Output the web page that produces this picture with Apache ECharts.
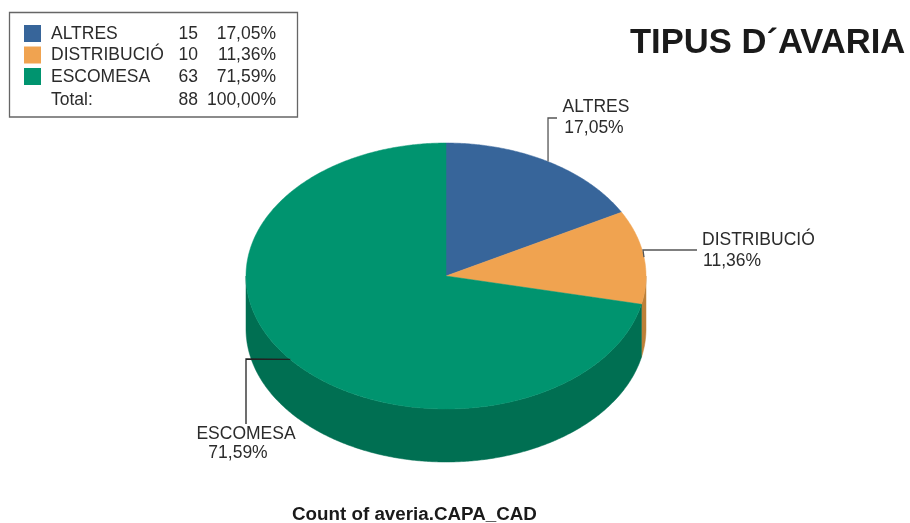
<!DOCTYPE html>
<html><head><meta charset="utf-8">
<style>html,body{margin:0;padding:0;background:#fff}#c{width:910px;height:523px}</style>
<script src="https://cdn.jsdelivr.net/npm/echarts@6/dist/echarts.min.js"></script>
</head><body><div id="c"></div>
<script>
var categories = ['ALTRES', 'DISTRIBUCIÓ', 'ESCOMESA'];
var counts = [15, 10, 63];
var percents = ['17,05%', '11,36%', '71,59%'];
var totalCount = '88';
var totalPercent = '100,00%';
var topColors = ['#37659a', '#f0a350', '#00946f'];
var sideColors = ['#2a4d76', '#bd8038', '#006f52'];

var FONT = '"Liberation Sans", Arial, Helvetica, sans-serif';
var TEXT = '#2b2b2b';
var FS = 17.5;
var PIE = {cx: 446, cy: 276, rx: 200, ry: 133, depth: 53};
var LABELS = [
  {turn: [[548, 118], [557, 118]], name: [596, 107, 'center'], pct: [594, 128, 'center']},
  {turn: [[643, 250], [697, 250]], name: [702, 240, 'left'], pct: [703, 261, 'left']},
  {turn: [[246, 359], [246, 424]], name: [246, 434, 'center'], pct: [238, 453, 'center']}
];

var total = counts.reduce(function (a, b) { return a + b; }, 0);
function pt(deg, dy) {
  var r = deg * Math.PI / 180;
  return [PIE.cx + PIE.rx * Math.sin(r), PIE.cy - PIE.ry * Math.cos(r) + (dy || 0)];
}
function arc(a0, a1, dy) {
  var out = [], n = Math.max(2, Math.ceil(Math.abs(a1 - a0) * 2));
  for (var i = 0; i <= n; i++) out.push(pt(a0 + (a1 - a0) * i / n, dy));
  return out;
}
function makeRender(idx) {
  return function (params, api) {
    var before = counts.slice(0, idx).reduce(function (a, b) { return a + b; }, 0);
    var a0 = before / total * 360;
    var a1 = (before + api.value(0)) / total * 360;
    var mid = (a0 + a1) / 2;
    var children = [];
    var s0 = Math.max(a0, 90), s1 = Math.min(a1, 270);
    if (s1 > s0) {
      children.push({
        type: 'polygon', z2: 1,
        shape: {points: arc(s0, s1, 0).concat(arc(s1, s0, PIE.depth))},
        style: {fill: sideColors[idx], stroke: sideColors[idx], lineWidth: 0.5}
      });
    }
    children.push({
      type: 'polygon', z2: 2,
      shape: {points: [[PIE.cx, PIE.cy]].concat(arc(a0, a1, 0))},
      style: {fill: topColors[idx], stroke: topColors[idx], lineWidth: 0.5}
    });
    var L = LABELS[idx];
    children.push({
      type: 'polyline', z2: 3,
      shape: {points: [pt(mid)].concat(L.turn)},
      style: {fill: null, stroke: idx === 2 ? '#222' : '#555', lineWidth: 1.3}
    });
    [[categories[idx], L.name], [percents[idx], L.pct]].forEach(function (t) {
      children.push({
        type: 'text', z2: 4, x: t[1][0], y: t[1][1],
        style: {text: t[0], align: t[1][2], verticalAlign: 'middle',
                font: FS + 'px ' + FONT, fill: TEXT}
      });
    });
    return {type: 'group', children: children};
  };
}
var chart = echarts.init(document.getElementById('c'), null, {renderer: 'canvas'});
var pctRight = 276, countRight = 198;
function rich(extra) {
  var o = {lineHeight: 16, fontFamily: FONT, fontSize: FS, color: TEXT};
  for (var k in extra) o[k] = extra[k];
  return o;
}
chart.setOption({
  animation: false,
  backgroundColor: '#fff',
  title: [
    {text: 'TIPUS D´AVARIA', left: 625, top: 21,
     textStyle: {fontFamily: FONT, fontSize: 34.6, fontWeight: 'bold', color: '#1a1a1a'}},
    {text: 'Count of averia.CAPA_CAD', left: 287, top: 500,
     textStyle: {fontFamily: FONT, fontSize: 18.8, fontWeight: 'bold', color: '#1a1a1a'}}
  ],
  legend: {
    orient: 'vertical', left: 24, top: 24, padding: 0,
    itemWidth: 17, itemHeight: 17, itemGap: 2.5, icon: 'rect', selectedMode: false,
    data: categories,
    formatter: function (name) {
      var i = categories.indexOf(name);
      return '{n|' + name + '}{c|' + counts[i] + '}{p|' + percents[i] + '}';
    },
    textStyle: {
      rich: {
        n: rich({width: 125, padding: [1, 0, 0, 5]}),
        c: rich({width: 22, padding: [1, 0, 0, 0], align: 'right'}),
        p: rich({width: 78, padding: [1, 0, 0, 0], align: 'right'})
      }
    }
  },
  graphic: [
    {type: 'rect', z: -1, shape: {x: 9.5, y: 12.5, width: 288, height: 104.5},
     style: {fill: '#fff', stroke: '#666', lineWidth: 1.3}},
    {type: 'text', x: 51, y: 100, style: {text: 'Total:', verticalAlign: 'middle', font: FS + 'px ' + FONT, fill: TEXT}},
    {type: 'text', x: countRight, y: 100, style: {text: totalCount, align: 'right', verticalAlign: 'middle', font: FS + 'px ' + FONT, fill: TEXT}},
    {type: 'text', x: pctRight, y: 100, style: {text: totalPercent, align: 'right', verticalAlign: 'middle', font: FS + 'px ' + FONT, fill: TEXT}}
  ],
  series: categories.map(function (name, i) {
    return {
      type: 'custom', name: name, coordinateSystem: 'none', silent: true,
      itemStyle: {color: topColors[i]},
      renderItem: makeRender(i),
      data: [[counts[i]]]
    };
  })
});
</script></body></html>
